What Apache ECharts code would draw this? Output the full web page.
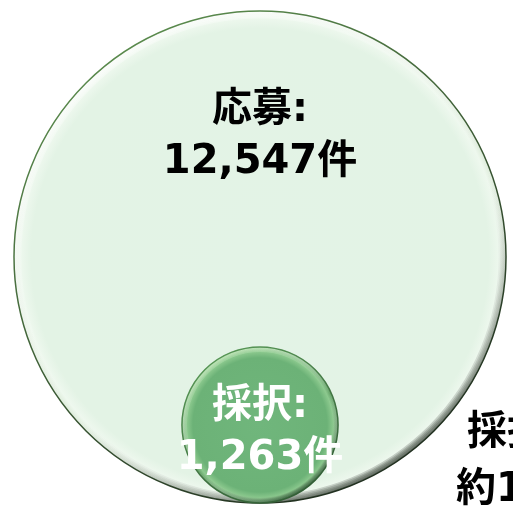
<!DOCTYPE html>
<html>
<head>
<meta charset="utf-8">
<script src="https://cdn.jsdelivr.net/npm/echarts@6/dist/echarts.min.js"></script>
<style>
  html, body { margin: 0; padding: 0; background: #fff; }
  #chart { width: 513px; height: 508px; }
</style>
</head>
<body>
<div id="chart"></div>
<script>
// data
const categories = ['応募', '採択']
const counts = [12547, 1263]
const unit = '件'
const rateTitle = '採択率'
const ratePrefix = '約'

const FONT = '"DejaVu Sans", "Noto Sans CJK JP", sans-serif'

const maxCount = Math.max(...counts)
const rate = Math.round(counts[1] / counts[0] * 100)

const looks = [
  {
    stops: [
      { offset: 0, color: '#e3f3e6' },
      { offset: 0.93, color: '#e3f3e5' },
      { offset: 0.975, color: '#eef8ee' },
      { offset: 1, color: '#dcebd9' }
    ],
    light: 'rgba(255,255,255,0.4)',
    dark: 'rgba(20,30,20,0.3)',
    edge: ['#5e9150', '#1c281c'],
    text: '#000',
    labelShift: -0.49
  },
  {
    stops: [
      { offset: 0, color: '#70b67c' },
      { offset: 0.86, color: '#6cb277' },
      { offset: 0.94, color: '#8cc98e' },
      { offset: 1, color: '#5a985e' }
    ],
    light: 'rgba(200,240,190,0.35)',
    dark: 'rgba(20,60,25,0.3)',
    edge: ['#5a9a58', '#2f5a33'],
    text: '#fff',
    labelShift: 0.1
  }
]

const chart = echarts.init(document.getElementById('chart'))

const renderItem = (params, api) => {
  const i = params.dataIndex
  const look = looks[i]
  // radius in axis units, area proportional to count
  const rr = Math.sqrt(api.value(1) / maxCount)
  const c = api.coord([0, rr])
  const r = api.coord([rr, rr])[0] - c[0]
  const children = [{
    type: 'circle',
    shape: { cx: c[0], cy: c[1], r: r },
    style: { fill: new echarts.graphic.RadialGradient(0.5, 0.5, 0.5, look.stops) }
  }]
  // bevel: stacked thin rings lit from top-left
  const band = Math.max(5, r * 0.03)
  const steps = 5
  for (let k = 1; k <= steps; k++) {
    children.push({
      type: 'ring',
      shape: { cx: c[0], cy: c[1], r: r, r0: r - band * k / steps },
      style: {
        fill: new echarts.graphic.LinearGradient(0.2, 0, 0.8, 1, [
          { offset: 0, color: look.light },
          { offset: 0.55, color: 'rgba(255,255,255,0)' },
          { offset: 1, color: look.dark }
        ])
      }
    })
  }
  children.push({
    type: 'circle',
    shape: { cx: c[0], cy: c[1], r: r },
    style: {
      fill: 'none',
      lineWidth: 1.5,
      stroke: new echarts.graphic.LinearGradient(0.2, 0, 0.8, 1, [
        { offset: 0, color: look.edge[0] },
        { offset: 1, color: look.edge[1] }
      ])
    }
  })
  children.push({
    type: 'text',
    style: {
      text: categories[i] + ':\n' + api.value(1).toLocaleString('en-US') + unit,
      x: c[0],
      y: c[1] + r * look.labelShift,
      align: 'center',
      verticalAlign: 'middle',
      fontFamily: FONT,
      fontWeight: 'bold',
      fontSize: 40,
      lineHeight: 52,
      fill: look.text
    }
  })
  return { type: 'group', children: children }
}

const option = {
  animation: false,
  grid: { left: 14, top: 11, width: 492, height: 492 },
  xAxis: { type: 'value', min: -1, max: 1, show: false },
  yAxis: { type: 'value', min: 0, max: 2, show: false },
  series: [{
    type: 'custom',
    renderItem: renderItem,
    data: counts.map((v, i) => [i, v])
  }],
  graphic: [
    {
      type: 'text',
      x: 467, y: 434,
      style: {
        text: rateTitle + ':',
        verticalAlign: 'middle',
        fontFamily: FONT, fontWeight: 'bold', fontSize: 40, fill: '#000'
      }
    },
    {
      type: 'text',
      x: 456, y: 491,
      style: {
        text: ratePrefix + rate + '%',
        verticalAlign: 'middle',
        fontFamily: FONT, fontWeight: 'bold', fontSize: 40, fill: '#000'
      }
    }
  ]
}

chart.setOption(option)

window.addEventListener('resize', () => {
  chart.resize()
})
</script>
</body>
</html>
